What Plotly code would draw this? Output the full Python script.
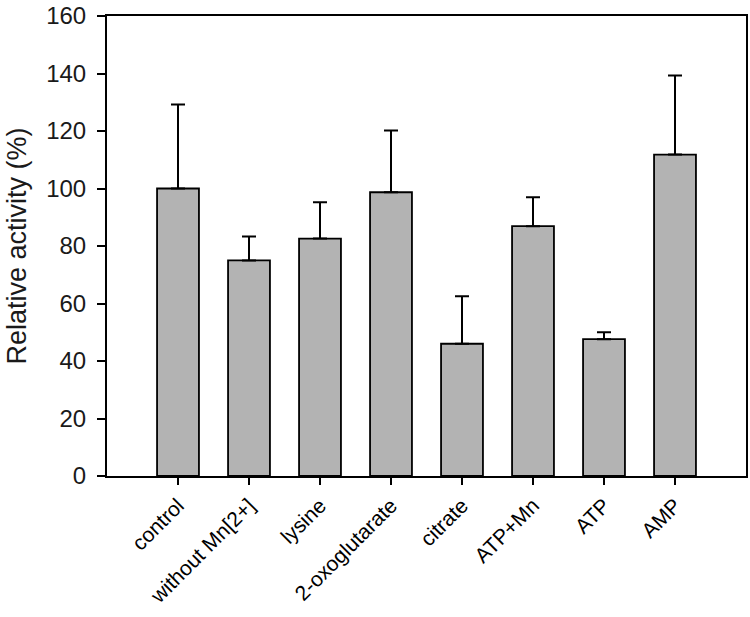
import plotly.graph_objects as go

categories = ["control", "without Mn[2+]", "lysine", "2-oxoglutarate",
              "citrate", "ATP+Mn", "ATP", "AMP"]
activity = [100.0, 75.0, 82.6, 98.7, 46.0, 86.9, 47.6, 111.8]
error_up = [29.2, 8.3, 12.6, 21.5, 16.5, 10.1, 2.4, 27.5]
y_ticks = [0, 20, 40, 60, 80, 100, 120, 140, 160]

fig = go.Figure()
fig.add_trace(go.Bar(
    x=categories,
    y=activity,
    marker=dict(color="#b3b3b3", line=dict(color="black", width=1.8)),
    error_y=dict(type="data", array=error_up, symmetric=False,
                 arrayminus=[0] * len(error_up),
                 color="black", thickness=2, width=7),
    width=0.59,
))

fig.update_layout(
    width=750, height=617,
    margin=dict(l=107, r=2, t=12, b=141),
    plot_bgcolor="white", paper_bgcolor="white",
    showlegend=False,
    font=dict(family="Liberation Sans, Arial, sans-serif", color="#1a1a1a"),
)
fig.update_xaxes(
    range=[-1, 8],
    showline=True, linecolor="black", linewidth=2, mirror=True,
    ticks="outside", ticklen=7, tickwidth=2, tickcolor="black",
    tickangle=-45, tickfont=dict(size=21, color="black"),
    showgrid=False,
)
fig.update_yaxes(
    range=[0, 160], tickvals=y_ticks,
    showline=True, linecolor="black", linewidth=2, mirror=True,
    ticks="outside", ticklen=8, tickwidth=2, tickcolor="black",
    tickfont=dict(size=24, color="#1a1a1a"),
    ticklabeloverflow="allow", ticklabelstandoff=6,
    title=dict(text="Relative activity (%)", font=dict(size=27, color="#1a1a1a"), standoff=12),
    showgrid=False, zeroline=False,
)

fig.write_html("out.html", config={"displayModeBar": False},
               post_script="document.body.style.margin='0';")
